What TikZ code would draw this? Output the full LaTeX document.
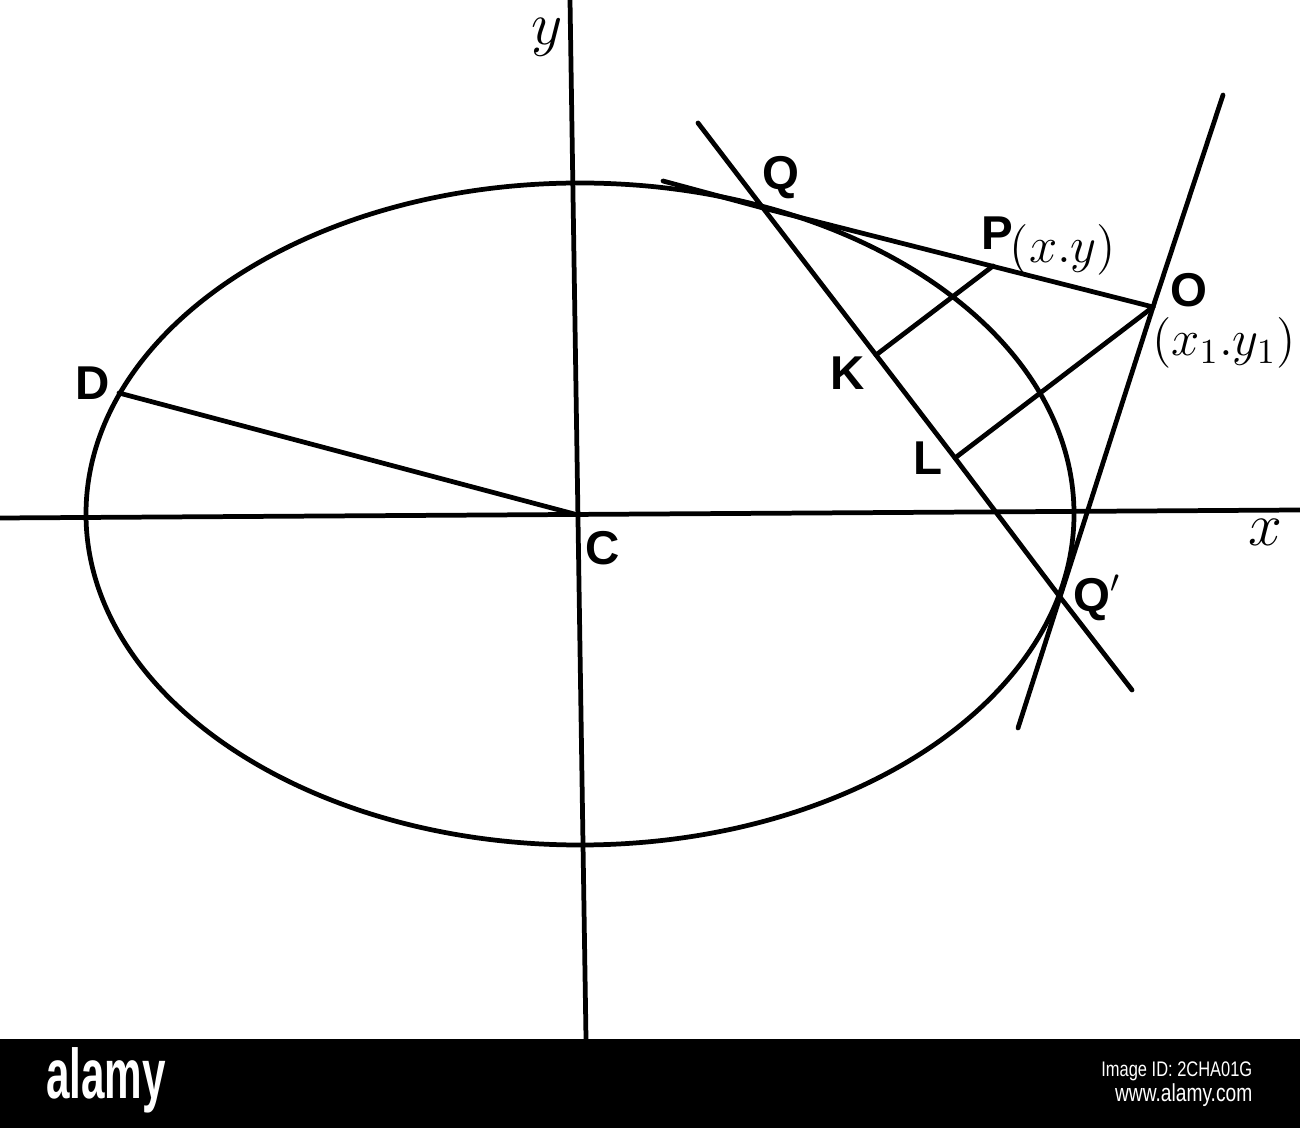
\documentclass[tikz,border=0pt]{standalone}
\usepackage{fontspec}
\newfontfamily\labfont{Liberation Sans}
\begin{document}
\begin{tikzpicture}[x=0.01cm,y=-0.01cm,
  ln/.style={line width=1.35pt, line cap=round},
  lab/.style={font=\labfont\bfseries\fontsize{13.5}{16}\selectfont, inner sep=0pt},
  mlab/.style={font=\fontsize{16}{18}\selectfont, inner sep=0pt},
  plab/.style={font=\fontsize{14.5}{16}\selectfont, inner sep=0pt},
  wm/.style={text=white, inner sep=0pt}]
\useasboundingbox (0,0) rectangle (1300,1128);
\fill[white] (0,0) rectangle (1300,1039);
\fill[black] (0,1039) rectangle (1300,1128);
% points
\coordinate (xl) at (0,518);
\coordinate (xr) at (1300,510);
\coordinate (yt) at (570,0);
\coordinate (yb) at (586,1039);
\coordinate (C) at (578,515);
\coordinate (D) at (119,393);
\coordinate (Q) at (763,208);
\coordinate (Qp) at (1060,597);
\coordinate (O) at (1153,307);
\coordinate (P) at (993,266);
\coordinate (K) at (876,355);
\coordinate (L) at (955,458);
\coordinate (ch1) at (698,123);
\coordinate (ch2) at (1132,690);
\coordinate (t1) at (663,181);
\coordinate (t2a) at (1223,95);
\coordinate (t2b) at (1018,728);
% axes
\draw[ln] (xl) -- (xr);
\draw[ln] (yt) -- (yb);
% ellipse
\draw[ln] (580,514) ellipse [x radius=494, y radius=331];
% lines
\draw[ln] (D) -- (C);
\draw[ln] (t1) -- (Q) -- (O);
\draw[ln] (t2a) -- (O) -- (Qp) -- (t2b);
\draw[ln] (ch1) -- (Q) -- (K) -- (L) -- (Qp) -- (ch2);
\draw[ln] (P) -- (K);
\draw[ln] (O) -- (L);
% labels
\node[mlab] (ylab) at (547,37) {$y$};
\node[mlab] (xlab) at (1265,532) {$x$};
\node[lab] (Clab) at (603,548) {C};
\node[lab] (Dlab) at (93,383) {D};
\node[lab] (Qlab) at (781,178) {Q};
\node[lab] (Plab) at (997,233) {P};
\node[plab] (Pc) at (1063,250) {$(x.y)$};
\node[lab] (Olab) at (1189,290) {O};
\node[plab] (Oc) at (1224,343) {$(x_1.y_1)$};
\node[lab] (Klab) at (848,373) {K};
\node[lab] (Llab) at (928,458) {L};
\node[lab,anchor=west] (Qplab) at (1073,598) {Q$'$};
% watermark band
\node[wm,font=\labfont\bfseries\fontsize{20}{22}\selectfont] (wm1) at (106,1080) {\scalebox{0.6}[1]{alamy}};
\node[wm,font=\labfont\fontsize{6}{7}\selectfont,anchor=east] (wm2) at (1253,1071) {\scalebox{0.78}[1]{Image ID: 2CHA01G}};
\node[wm,font=\labfont\fontsize{7}{8}\selectfont,anchor=east] (wm3) at (1253,1095) {\scalebox{0.78}[1]{www.alamy.com}};
\end{tikzpicture}
\end{document}
